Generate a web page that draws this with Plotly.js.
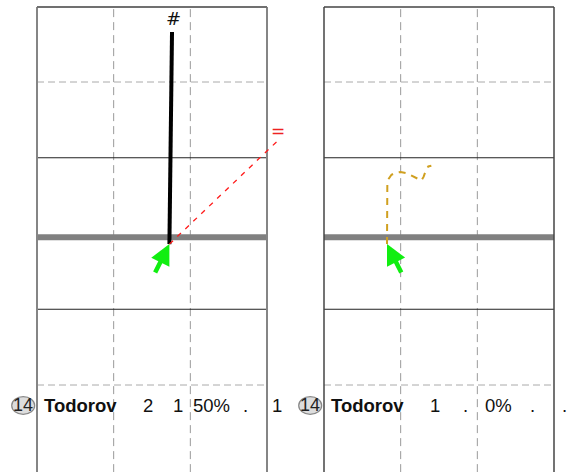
<!DOCTYPE html>
<html><head><meta charset="utf-8">
<script src="https://cdn.plot.ly/plotly-3.0.1.min.js"></script>
<style>html,body{margin:0;padding:0;background:#fff;overflow:hidden}</style>
</head><body><div id="chart" style="width:574px;height:472px"></div>
<script>
// ---- data ----
const jerseyNumbers = ['14', '14'];
const playerNames = ['Todorov', 'Todorov'];
const leftStats = ['2', '1', '50%', '.', '1'];
const rightStats = ['1', '.', '0%', '.', '.'];
const statColumnX = [1.448, 1.845, 2.27, 2.72, 3.135];
const rowY = 0.73;
const gridX = [1, 2];
const dashedY = [1, 5];
const solidY = [2, 4];
const baselineY = 2.95;
const panelTop = 5.99;
const panelBottom = -0.15;
// left panel: carry (black) and pass (red dashed)
const carryX = [1.761, 1.727];
const carryY = [5.66, 2.86];
const passX = [1.727, 3.13];
const passY = [2.86, 4.215];
// right panel: curved dashed path
const curveX = [0.822, 0.822, 0.826, 0.845, 0.88, 0.93, 1.0, 1.08, 1.17, 1.27, 1.30, 1.33, 1.36, 1.40];
const curveY = [2.861, 3.442, 3.64, 3.725, 3.775, 3.80, 3.812, 3.795, 3.755, 3.70, 3.75, 3.84, 3.885, 3.895];
// arrow tips
const leftTip = [1.727, 2.86];
const rightTip = [0.822, 2.861];
const hashLabel = {text: '#', x: 1.774, y: 5.832};
const eqLabel = {text: '=', x: 3.137, y: 4.353};

const FONT = 'Liberation Sans, Arial, sans-serif';

function panelShapes(xr, borderColor, borderWidth, topColor) {
  const s = [];
  const yr = 'y';
  gridX.forEach(v => s.push({type: 'line', xref: xr, yref: yr, x0: v, x1: v, y0: panelBottom, y1: panelTop,
    line: {color: '#9a9a9a', width: 1, dash: '8px,5px'}, layer: 'below'}));
  dashedY.forEach(v => s.push({type: 'line', xref: xr, yref: yr, x0: 0, x1: 3, y0: v, y1: v,
    line: {color: '#aaaaaa', width: 1, dash: '7px,4px'}, layer: 'below'}));
  solidY.forEach(v => s.push({type: 'line', xref: xr, yref: yr, x0: 0, x1: 3, y0: v, y1: v,
    line: {color: '#222222', width: 1}, layer: 'below'}));
  s.push({type: 'line', xref: xr, yref: yr, x0: 0, x1: 3, y0: baselineY, y1: baselineY,
    line: {color: '#808080', width: 6}, layer: 'below'});
  [0, 3].forEach(v => s.push({type: 'line', xref: xr, yref: yr, x0: v, x1: v, y0: panelBottom, y1: panelTop,
    line: {color: borderColor, width: borderWidth}, layer: 'below'}));
  s.push({type: 'line', xref: xr, yref: yr, x0: 0, x1: 3, y0: panelTop, y1: panelTop,
    line: {color: topColor, width: borderWidth}, layer: 'below'});
  s.push({type: 'circle', xref: xr, yref: yr, x0: -0.33, x1: -0.03, y0: 0.613, y1: 0.846,
    fillcolor: '#dddddd', line: {color: '#888888', width: 1.2}, layer: 'below'});
  return s;
}

const shapes = panelShapes('x', '#858585', 2, '#707070').concat(panelShapes('x2', '#444444', 1.5, '#444444'));

const annotations = [];
function rowAnn(xr, idx, stats) {
  annotations.push({xref: xr, yref: 'y', x: -0.183, y: rowY, text: jerseyNumbers[idx], showarrow: false,
    xanchor: 'center', yanchor: 'middle', font: {family: FONT, size: 18, color: '#222'}});
  annotations.push({xref: xr, yref: 'y', x: 0.065, y: rowY, text: '<b>' + playerNames[idx] + '</b>', showarrow: false,
    xanchor: 'left', yanchor: 'middle', font: {family: FONT, size: 18.5, color: '#111'}});
  stats.forEach((t, i) => annotations.push({xref: xr, yref: 'y', x: statColumnX[i], y: rowY, text: t, showarrow: false,
    xanchor: 'center', yanchor: 'middle', font: {family: FONT, size: 18.5, color: '#111'}}));
}
rowAnn('x', 0, leftStats);
rowAnn('x2', 1, rightStats);

annotations.push({xref: 'x', yref: 'y', x: hashLabel.x, y: hashLabel.y, text: hashLabel.text, showarrow: false,
  font: {family: 'DejaVu Sans, sans-serif', size: 18, color: '#111'}});
annotations.push({xref: 'x', yref: 'y', x: eqLabel.x, y: eqLabel.y, text: eqLabel.text, showarrow: false,
  font: {family: 'DejaVu Sans, sans-serif', size: 17, color: '#ee2222'}});

annotations.push({xref: 'x', yref: 'y', x: leftTip[0], y: leftTip[1], text: '', showarrow: true,
  ax: -15, ay: 30, arrowhead: 2, arrowwidth: 4.5, arrowsize: 0.9, arrowcolor: '#11ee11', standoff: 0});
annotations.push({xref: 'x2', yref: 'y', x: rightTip[0], y: rightTip[1], text: '', showarrow: true,
  ax: 15, ay: 30, arrowhead: 2, arrowwidth: 4.5, arrowsize: 0.9, arrowcolor: '#11ee11', standoff: 0});

const traces = [
  {x: carryX, y: carryY, xaxis: 'x', yaxis: 'y', mode: 'lines', line: {color: '#000', width: 4}, hoverinfo: 'skip'},
  {x: passX, y: passY, xaxis: 'x', yaxis: 'y', mode: 'lines', line: {color: '#ff1a1a', width: 1.3, dash: '5px,6px'}, hoverinfo: 'skip'},
  {x: curveX, y: curveY, xaxis: 'x2', yaxis: 'y', mode: 'lines', line: {color: '#d0a020', width: 2, dash: '7px,6px'}, hoverinfo: 'skip'}
];

const layout = {
  width: 574, height: 472,
  margin: {l: 0, r: 0, t: 0, b: 0},
  paper_bgcolor: '#fff', plot_bgcolor: '#fff',
  showlegend: false,
  xaxis: {domain: [0, 296 / 574], range: [-37 / 76.667, 259 / 76.667], visible: false, fixedrange: true},
  xaxis2: {domain: [296 / 574, 1], range: [-28 / 76.667, 250 / 76.667], visible: false, anchor: 'y', fixedrange: true},
  yaxis: {range: [-0.1485, 6.0825], visible: false, fixedrange: true},
  shapes: shapes,
  annotations: annotations
};

Plotly.newPlot('chart', traces, layout, {staticPlot: true, displayModeBar: false});
</script></body></html>
